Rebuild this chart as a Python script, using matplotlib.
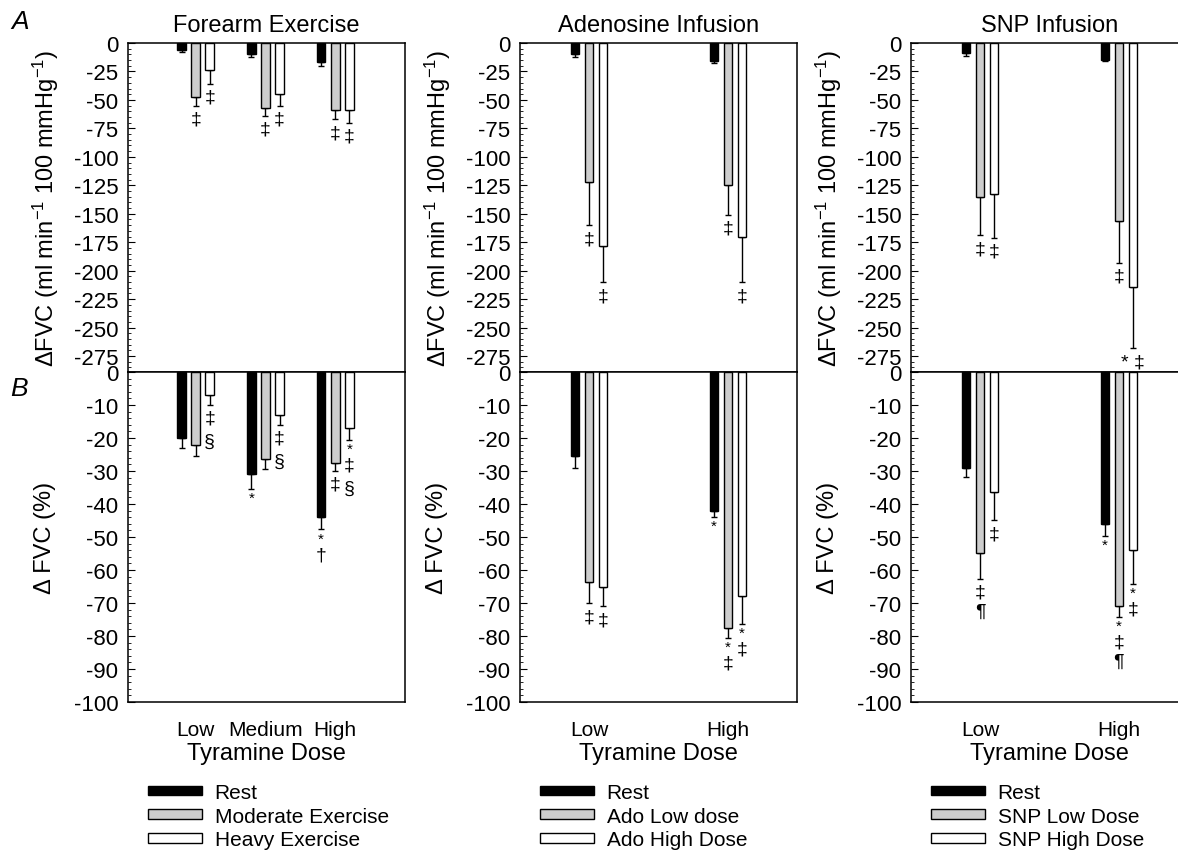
import numpy as np
import matplotlib
matplotlib.use('Agg')
import matplotlib.pyplot as plt
from matplotlib.ticker import MultipleLocator

plt.rcParams['font.family'] = ['Liberation Sans', 'DejaVu Sans']
plt.rcParams['mathtext.fontset'] = 'custom'
plt.rcParams['mathtext.rm'] = 'Liberation Sans'
plt.rcParams['mathtext.default'] = 'regular'
plt.rcParams['axes.unicode_minus'] = False

titles = ['Forearm Exercise', 'Adenosine Infusion', 'SNP Infusion']
dose_labels = [['Low', 'Medium', 'High'], ['Low', 'High'], ['Low', 'High']]
series_names = [['Rest', 'Moderate Exercise', 'Heavy Exercise'],
                ['Rest', 'Ado Low dose', 'Ado High Dose'],
                ['Rest', 'SNP Low Dose', 'SNP High Dose']]

# rows: rest, low/moderate, high/heavy ; cols: tyramine dose
# panel A: change in FVC (ml min-1 100 mmHg-1)
fe_A = [[-6, -10, -17], [-47, -57, -59], [-24, -45, -59]]
fe_A_err = [[2, 2, 3], [8, 7, 8], [12, 10, 11]]
ado_A = [[-10, -16], [-122, -125], [-178, -170]]
ado_A_err = [[2, 2], [38, 26], [32, 40]]
snp_A = [[-9, -15], [-135, -156], [-133, -214]]
snp_A_err = [[2, 1], [34, 37], [38, 54]]

# panel B: change in FVC (%)
fe_B = [[-20, -31, -44], [-22, -26.5, -27.5], [-7, -13, -17]]
fe_B_err = [[3, 4.5, 3.7], [3.6, 3, 2.5], [3, 3, 3.5]]
ado_B = [[-25.5, -42], [-63.5, -77.7], [-65, -68]]
ado_B_err = [[3.6, 2], [6.6, 2.8], [6, 8.3]]
snp_B = [[-29, -46.2], [-54.7, -71], [-36.3, -54]]
snp_B_err = [[2.7, 3.4], [8, 3.2], [8.6, 10.2]]

# significance symbols under each bar (stacked top to bottom)
fe_A_sig = [[[], [], []], [['‡'], ['‡'], ['‡']], [['‡'], ['‡'], ['‡']]]
ado_A_sig = [[[], []], [['‡'], ['‡']], [['‡'], ['‡']]]
snp_A_sig = [[[], []], [['‡'], ['‡']], [['‡'], ['* ‡']]]
fe_B_sig = [[[], ['*'], ['*', '†']], [[], [], ['‡']], [['‡', '§'], ['‡', '§'], ['*', '‡', '§']]]
ado_B_sig = [[[], ['*']], [['‡'], ['*', '‡']], [['‡'], ['*', '‡']]]
snp_B_sig = [[[], ['*']], [['‡', '¶'], ['*', '‡', '¶']], [['‡'], ['*', '‡']]]

panel_A = [(fe_A, fe_A_err, fe_A_sig), (ado_A, ado_A_err, ado_A_sig), (snp_A, snp_A_err, snp_A_sig)]
panel_B = [(fe_B, fe_B_err, fe_B_sig), (ado_B, ado_B_err, ado_B_sig), (snp_B, snp_B_err, snp_B_sig)]

colors = ['black', '#cdcdcd', 'white']
W, H = 1178, 853
fig = plt.figure(figsize=(W / 100, H / 100), dpi=100)

lefts = [128, 520, 911]
xlims = [(0.03, 4.0), (0.5, 2.5), (0.5, 2.5)]
steps = [0.202, 0.101, 0.101]
widths = [0.123, 0.061, 0.061]
sym_step = {'*': 12, '‡': 21, '§': 25, '¶': 17, '†': 22, '* ‡': 21}


def draw_panel(ax, vals, errs, sigs, k, with_ticklabels):
    ngroups = len(dose_labels[k])
    xg = np.arange(1, ngroups + 1)
    handles = []
    for s in range(3):
        xs = xg + (s - 1) * steps[k]
        v = np.array(vals[s], dtype=float)
        e = np.array(errs[s], dtype=float)
        b = ax.bar(xs, v, widths[k], color=colors[s], edgecolor='black',
                   linewidth=1, label=series_names[k][s], zorder=3)
        handles.append(b)
        ax.errorbar(xs, v, yerr=[e, np.zeros_like(e)], fmt='none', ecolor='black',
                    elinewidth=1, capsize=2.5, capthick=1, zorder=2)
        for i in range(ngroups):
            off = 3
            for sym in sigs[s][i]:
                h = sym_step[sym]
                fs = 11 if sym == '*' else 14
                ax.annotate(sym, (xs[i], v[i] - e[i]), xytext=(0, -(off + h / 2)),
                            textcoords='offset pixels', ha='center', va='center',
                            fontsize=fs, zorder=4)
                off += h
    ax.set_xlim(*xlims[k])
    ax.set_xticks(xg)
    ax.tick_params(axis='x', length=0, labelsize=15, pad=13)
    if with_ticklabels:
        ax.set_xticklabels(dose_labels[k])
    else:
        ax.set_xticklabels([])
    ax.tick_params(axis='y', which='major', direction='in', length=5, labelsize=16, pad=7)
    ax.tick_params(axis='y', which='minor', direction='in', length=2.5)
    for sp in ax.spines.values():
        sp.set_linewidth(1.1)
    return handles


ax_top = 44
ax_mid = 373
ax_bot = 703
for k in range(3):
    axA = fig.add_axes([lefts[k] / W, 1 - ax_mid / H, 277 / W, (ax_mid - ax_top) / H])
    axB = fig.add_axes([lefts[k] / W, 1 - ax_bot / H, 277 / W, (ax_bot - ax_mid) / H])
    draw_panel(axA, *panel_A[k], k, False)
    handles = draw_panel(axB, *panel_B[k], k, True)

    axA.set_ylim(-289, 0)
    axA.yaxis.set_major_locator(MultipleLocator(25))
    axA.yaxis.set_minor_locator(MultipleLocator(5))
    axA.set_ylabel('ΔFVC (ml min$^{-1}$ 100 mmHg$^{-1}$)', fontsize=17, labelpad=9)
    axA.set_title(titles[k], fontsize=17, pad=9)

    axB.set_ylim(-100, 0)
    axB.yaxis.set_major_locator(MultipleLocator(10))
    axB.yaxis.set_minor_locator(MultipleLocator(2))
    axB.set_ylabel('Δ FVC (%)', fontsize=17, labelpad=13)
    axB.set_xlabel('Tyramine Dose', fontsize=17, labelpad=2)

    if k == 2:
        axA.spines['right'].set_visible(False)
        axB.spines['right'].set_visible(False)

    fig.legend(handles, series_names[k], loc='upper left',
               bbox_to_anchor=((lefts[k] + 20) / W, 1 - 784 / H),
               frameon=False, borderpad=0, borderaxespad=0, handlelength=2.6,
               handleheight=0.35, handletextpad=0.6, labelspacing=0.22, fontsize=15)

fig.text(20 / W, 1 - 22 / H, 'A', fontsize=19, style='italic', ha='center', va='center')
fig.text(19 / W, 1 - 389 / H, 'B', fontsize=19, style='italic', ha='center', va='center')

fig.savefig('out.png', dpi=100)
